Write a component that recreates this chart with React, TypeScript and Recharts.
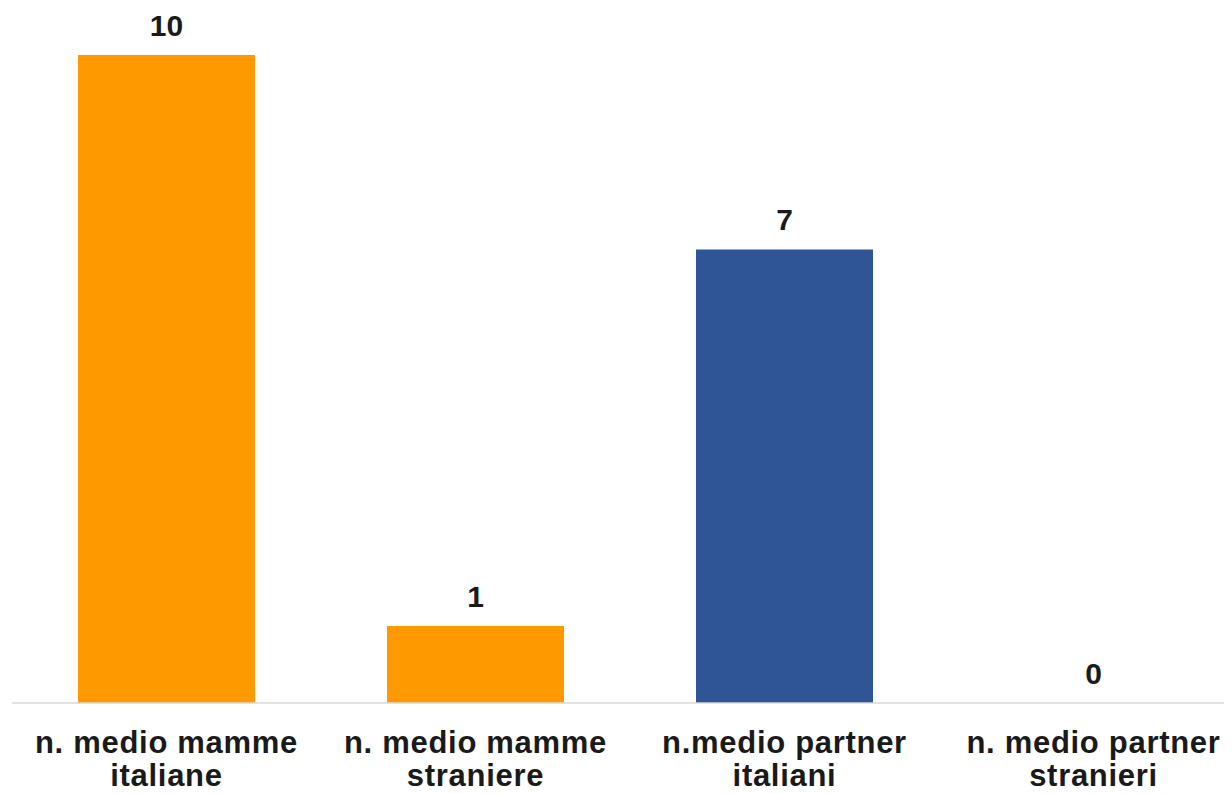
import React from "react";
import { BarChart, Bar, XAxis, YAxis, Cell, LabelList } from "recharts";

const categories = [
  "n. medio mamme italiane",
  "n. medio mamme straniere",
  "n.medio partner italiani",
  "n. medio partner stranieri",
];
const tickLines = [
  ["n. medio mamme", "italiane"],
  ["n. medio mamme", "straniere"],
  ["n.medio partner", "italiani"],
  ["n. medio partner", "stranieri"],
];
const values = [10, 1.19, 7, 0];
const colors = ["#FF9900", "#FF9900", "#2F5597", "#FF9900"];

const chartData = categories.map((c, i) => ({ name: c, value: values[i] }));

const FONT = "'Liberation Sans', Arial, sans-serif";

const CategoryTick = ({ x, y, index }: any) => {
  const lines = tickLines[index] || [];
  return (
    <text
      x={x}
      y={y}
      textAnchor="middle"
      fill="#1a1a1a"
      fontFamily={FONT}
      fontWeight="bold"
      fontSize={31}
      letterSpacing={0.7}
    >
      {lines.map((l, i) => (
        <tspan key={i} x={x} dy={i === 0 ? 42 : 33}>
          {l}
        </tspan>
      ))}
    </text>
  );
};

// value label above each bar (rounded like the original)
const ValueLabel = ({ x, y, width, height, value }: any) => (
  <text
    x={x + width / 2}
    y={y + Math.min(height, 0) - 19}
    textAnchor="middle"
    fill="#1a1a1a"
    fontFamily={FONT}
    fontWeight="bold"
    fontSize={30}
  >
    {String(Math.round(Number(value)))}
  </text>
);

export default function App() {
  return (
    <div style={{ width: 1224, height: 786, overflow: "hidden" }}>
      <BarChart
        width={1240}
        height={786}
        data={chartData}
        margin={{ top: 47, right: 0, left: 4, bottom: 0 }}
        barCategoryGap={66}
      >
        <XAxis
          dataKey="name"
          axisLine={{ stroke: "#d9d9d9", strokeWidth: 1.5 }}
          tickLine={false}
          interval={0}
          tick={<CategoryTick />}
          height={91}
        />
        <YAxis hide domain={[0, 10]} />
        <Bar
          dataKey="value"
          isAnimationActive={false}
          minPointSize={(v: any) => (Number(v) === 0 ? 0.01 : 0)}
        >
          {chartData.map((d, i) => (
            <Cell key={i} fill={d.value === 0 ? "transparent" : colors[i]} />
          ))}
          <LabelList dataKey="value" content={<ValueLabel />} />
        </Bar>
      </BarChart>
    </div>
  );
}
